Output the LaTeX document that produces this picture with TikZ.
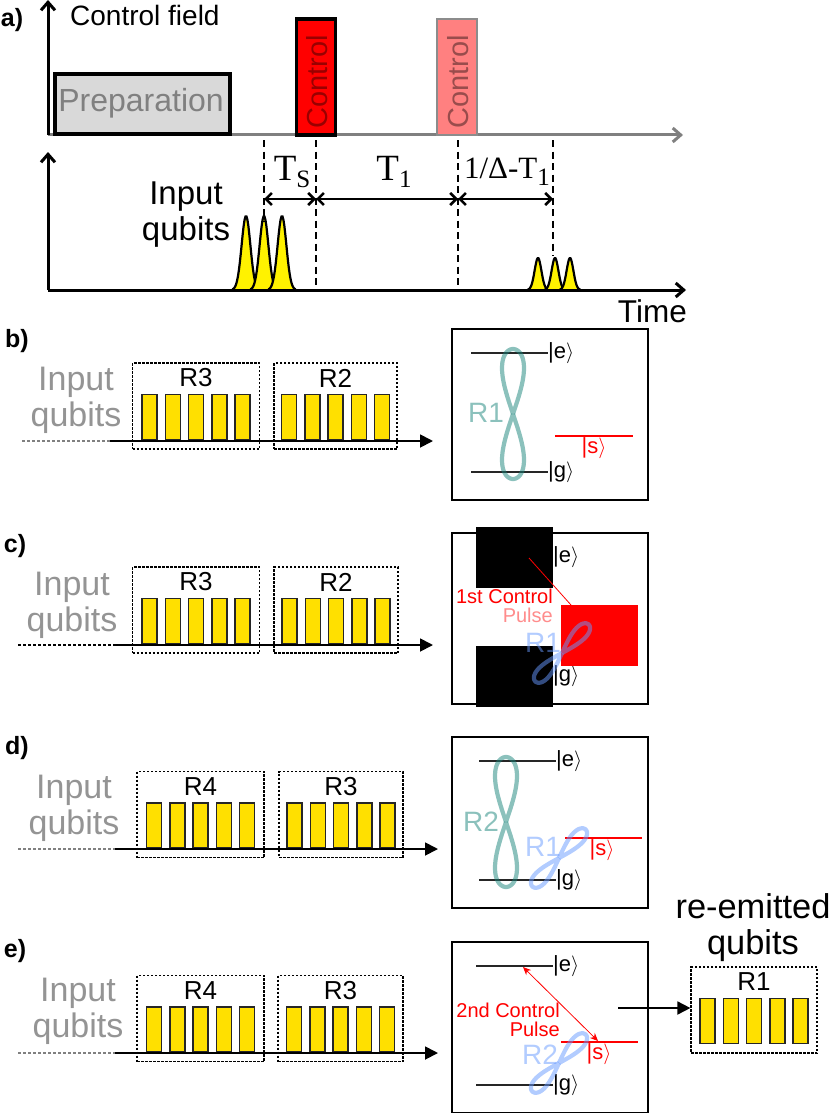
\documentclass[tikz,border=0pt]{standalone}
\usepackage{fontspec}
\setmainfont{Liberation Sans}
\newfontfamily\timefont{Liberation Serif}
\usetikzlibrary{arrows.meta}

\definecolor{barfill}{HTML}{FFE000}
\definecolor{tealring}{HTML}{178379}
\definecolor{bluering}{HTML}{6699FF}

\tikzset{
	fnt/.style={font=\fontsize{#1}{36}\selectfont, inner sep=0pt, align=center},
	axis/.style={line width=3pt, ->, >={Straight Barb[length=8pt,width=14pt]}},
	tick/.style={line width=2.4pt, dash pattern=on 7pt off 4.5pt},
	span/.style={line width=2.6pt, <->, >={Straight Barb[length=6pt,width=12pt]}},
	feed/.style={line width=1.8pt, ->, >={Stealth[length=13pt,width=13pt,inset=0pt]}},
	regbox/.style={draw, line width=1.2pt, dash pattern=on 2.5pt off 1.5pt, minimum height=86pt, inner sep=0pt},
	bar/.style={draw=black!85, fill=barfill, line width=1.5pt, minimum width=15pt, minimum height=45pt, inner sep=0pt},
	pulse/.style={draw=black, fill=yellow, line width=2.2pt},
	cavity/.style={draw, line width=2pt, minimum width=196pt, minimum height=171pt, inner sep=0pt},
	level/.style={draw=black!85, line width=1.3pt},
	slevel/.style={draw=red, line width=1.3pt},
	ring/.style={line width=4.2pt, draw opacity=0.5},
	lobes/.pic={
		\foreach \a in {-90, 90}
			\draw[pic actions] plot[smooth, domain=\a:\a+180, samples=40] ({sin(2*\x)}, {cos(\x)});
	}
}

% register of five qubits: name, centre x, top y, label, width
\newcommand{\qubitreg}[5]{
	\node[regbox, minimum width=#5] (#1) at (#2, #3+43) {};
	\node[fnt=26] (#1-label) at (#2, #3+15) {#4};
	\foreach \i in {-2,...,2}
		\node[bar] (#1-\i) at (#2+\i*23.25, #3+54) {};
}
% frame with levels e and g: name, top y, left end of the levels
\newcommand{\cavityframe}[3]{
	\node[cavity] (#1) at (550, #2+85.5) {};
	\coordinate (#1-eL) at (#3, #2+24);
	\coordinate (#1-gL) at (#3, #2+143);
	\node[fnt=22, anchor=west] (#1-e) at (#3+77, #2+24) {|e$\rangle$};
	\node[fnt=22, anchor=west] (#1-g) at (#3+77, #2+143) {|g$\rangle$};
	\draw[level] (#1-eL) -- (#1-e);
	\draw[level] (#1-gL) -- (#1-g);
}
\newcommand{\figeight}[2]{\pic[ring, draw=tealring, xscale=11, yscale=65] at (#1, #2) {lobes};}
\newcommand{\figdiag}[2]{\pic[ring, draw=bluering, rotate=-43, xscale=6.5, yscale=39] at (#1, #2) {lobes};}
\newcommand{\subT}[1]{\raisebox{-7pt}{\fontsize{25}{25}\selectfont #1}}

\begin{document}
\begin{tikzpicture}[x=1pt, y=-1pt]
	\useasboundingbox (0, 0) rectangle (830, 1113);

	% a) pulse sequence
	\node[fnt=25, font=\fontsize{25}{27}\bfseries] (la) at (12, 20) {a)};
	\coordinate (o1) at (48, 135);
	\coordinate (o2) at (48, 290);
	\coordinate (y1) at (48, 0);
	\coordinate (y2) at (48, 152);
	\coordinate (x1) at (683, 135);
	\coordinate (x2) at (686, 290);

	\draw[axis, draw=black!50] (o1) -- (x1);
	\draw[axis] (o1) -- (y1);
	\node[fnt=28, anchor=west] (field) at (70, 15) {Control field};

	\node[draw, line width=4pt, fill=black!15, minimum width=175pt, minimum height=60pt, inner sep=0pt] (prep) at (142, 104.5) {};
	\node[fnt=32, text=black!50] (prepText) at (141, 103) {Preparation};
	\node[draw, line width=3.4pt, fill=red, minimum width=39pt, minimum height=116pt, inner sep=0pt] (ctrlA) at (316, 77) {};
	\node[fnt=29, text=black, text opacity=0.4, rotate=90] (ctrlAText) at (317, 82) {Control};
	\node[draw=black!45, line width=2.6pt, fill=red!50, minimum width=40pt, minimum height=116pt, inner sep=0pt] (ctrlB) at (457, 77) {};
	\node[fnt=29, text=black, text opacity=0.4, rotate=90] (ctrlBText) at (458, 82) {Control};

	\draw[axis] (o2) -- (y2);
	\foreach \c in {246, 264, 282}
		\draw[pulse] plot[domain=-2.2:2.2, samples=30] ({\c+\x*6.2}, {290-74*exp(-\x*\x)});
	\foreach \c in {538, 555, 570}
		\draw[pulse] plot[domain=-2.2:2.2, samples=30] ({\c+\x*4.8}, {290-32*exp(-\x*\x)});
	\draw[axis] (o2) -- (x2);
	\node[fnt=33] (inq) at (186, 215) {Input\\qubits};
	\node[fnt=31.5, anchor=east] (time) at (687, 311) {Time};

	\coordinate (ts) at (264, 140);
	\coordinate (tsEnd) at (264, 222);
	\coordinate (tc) at (316, 140);
	\coordinate (tcEnd) at (316, 290);
	\coordinate (td) at (458, 140);
	\coordinate (tdEnd) at (458, 290);
	\coordinate (te) at (553, 140);
	\coordinate (teEnd) at (553, 256);
	\draw[tick] (ts) -- (tsEnd);
	\draw[tick] (tc) -- (tcEnd);
	\draw[tick] (td) -- (tdEnd);
	\draw[tick] (te) -- (teEnd);
	\coordinate (m1) at (264, 199);
	\coordinate (m2) at (316, 199);
	\coordinate (m3) at (458, 199);
	\coordinate (m4) at (553, 199);
	\draw[span] (m1) -- (m2);
	\draw[span] (m2) -- (m3);
	\draw[span] (m3) -- (m4);
	\node[fnt=37, font=\timefont\fontsize{37}{40}\selectfont] (tsT) at (292, 172) {T\subT{S}};
	\node[fnt=37, font=\timefont\fontsize{37}{40}\selectfont] (t1T) at (394, 172) {T\subT{1}};
	\node[fnt=31, font=\timefont\fontsize{31}{33}\selectfont] (t2T) at (507, 172) {1/Δ-T\subT{1}};

	% b)
	\node[fnt=25, font=\fontsize{25}{27}\bfseries] (lb) at (17, 341) {b)};
	\node[fnt=34, text=black!42] (inqB) at (76, 400) {Input\\qubits};
	\coordinate (bA) at (22, 441);
	\coordinate (bB) at (110, 441);
	\coordinate (bC) at (433, 441);
	\draw[black!50, line width=1.4pt, dash pattern=on 3pt off 2pt] (bA) -- (bB);
	\qubitreg{bR3}{196}{363}{R3}{127}
	\qubitreg{bR2}{335.5}{363}{R2}{123}
	\draw[feed] (bB) -- (bC);
	\cavityframe{bF}{329}{471}
	\coordinate (bSL) at (555, 436);
	\coordinate (bSR) at (633, 436);
	\draw[slevel] (bSL) -- (bSR);
	\node[fnt=22, text=red] (bS) at (594, 448) {|s$\rangle$};
	\figeight{513}{414}
	\node[fnt=28, text=tealring, text opacity=0.5] (bT) at (486, 413) {R1};

	% c)
	\node[fnt=25, font=\fontsize{25}{27}\bfseries] (lc) at (15, 546) {c)};
	\node[fnt=34, text=black!42] (inqC) at (72, 605) {Input\\qubits};
	\coordinate (cA) at (18, 645);
	\coordinate (cB) at (115, 645);
	\coordinate (cC) at (433, 645);
	\draw[black, line width=1.4pt, dash pattern=on 3pt off 2pt] (cA) -- (cB);
	\qubitreg{cR3}{196}{567}{R3}{127}
	\qubitreg{cR2}{336}{567}{R2}{124}
	\draw[feed] (cB) -- (cC);
	\cavityframe{cF}{533}{476}
	\node[fill=black, minimum width=77pt, minimum height=61pt, inner sep=0pt] (cTop) at (514.5, 557.5) {};
	\node[fill=black, minimum width=77pt, minimum height=61pt, inner sep=0pt] (cBot) at (514.5, 676.5) {};
	\node[fill=red, minimum width=77pt, minimum height=61pt, inner sep=0pt] (cPulse) at (599.5, 635) {};
	\coordinate (cL) at (529, 558);
	\coordinate (cM) at (571, 605);
	\draw[red, line width=0.8pt] (cL) -- (cM);
	\node[fnt=20, text=red, anchor=east] (cT1) at (553, 596) {1st Control};
	\node[fnt=20, text=red!45, anchor=east] (cT2) at (553, 615) {Pulse};
	\figdiag{562}{653}
	\node[fnt=28, text=bluering, text opacity=0.5] (cT) at (543, 643) {R1};

	% d)
	\node[fnt=25, font=\fontsize{25}{27}\bfseries] (ld) at (17, 748) {d)};
	\node[fnt=34, text=black!42] (inqD) at (74, 808) {Input\\qubits};
	\coordinate (dA) at (18, 849);
	\coordinate (dB) at (115, 849);
	\coordinate (dC) at (438, 849);
	\draw[black!50, line width=1.4pt, dash pattern=on 3pt off 2pt] (dA) -- (dB);
	\qubitreg{dR4}{200.5}{771.5}{R4}{127}
	\qubitreg{dR3}{341}{771.5}{R3}{124}
	\draw[feed] (dB) -- (dC);
	\cavityframe{dF}{737}{479}
	\coordinate (dSL) at (565, 838);
	\coordinate (dSR) at (642, 838);
	\draw[slevel] (dSL) -- (dSR);
	\node[fnt=22, text=red] (dS) at (602, 850) {|s$\rangle$};
	\figeight{506}{822}
	\node[fnt=28, text=tealring, text opacity=0.5] (dT) at (481, 822) {R2};
	\figdiag{559}{858}
	\node[fnt=28, text=bluering, text opacity=0.5] (dT1) at (543, 847) {R1};

	% e)
	\node[fnt=25, font=\fontsize{25}{27}\bfseries] (le) at (15, 951) {e)};
	\node[fnt=34, text=black!42] (inqE) at (78, 1011) {Input\\qubits};
	\coordinate (eA) at (18, 1053);
	\coordinate (eB) at (115, 1053);
	\coordinate (eC) at (438, 1053);
	\draw[black!50, line width=1.4pt, dash pattern=on 3pt off 2pt] (eA) -- (eB);
	\qubitreg{eR4}{200.5}{975.5}{R4}{127}
	\qubitreg{eR3}{340.5}{975.5}{R3}{125}
	\draw[feed] (eB) -- (eC);
	\cavityframe{eF}{942}{476}
	\coordinate (eSL) at (561, 1042);
	\coordinate (eSR) at (638, 1042);
	\draw[slevel] (eSL) -- (eSR);
	\node[fnt=22, text=red] (eS) at (599, 1054) {|s$\rangle$};
	\coordinate (eP) at (523, 967);
	\coordinate (eQ) at (598, 1041);
	\draw[red, line width=0.8pt, <->, >={Stealth[length=8pt,width=7pt]}] (eP) -- (eQ);
	\node[fnt=20, font=\fontsize{20}{19}\selectfont, align=right, text=red, anchor=east] (eT1) at (560, 1020) {2nd Control\\Pulse};
	\figdiag{559}{1063}
	\node[fnt=28, text=bluering, text opacity=0.5] (eT) at (540, 1055) {R2};

	\node[fnt=34.4] (reText) at (753, 928) {re-emitted\\qubits};
	\qubitreg{eR1}{754}{967}{R1}{126}
	\coordinate (eOut) at (618, 1008);
	\draw[feed] (eOut) -- (eOut -| eR1.west);
\end{tikzpicture}
\end{document}
